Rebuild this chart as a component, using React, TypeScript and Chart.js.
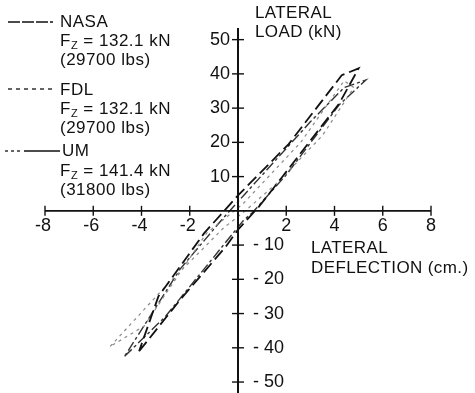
import React, { useEffect, useRef } from "react";
import { Chart, registerables } from "chart.js";

Chart.register(...registerables);

// ---- data (lateral deflection cm, lateral load kN) ----
const nasaX = [-4.1, -2.4, -0.5, 0, 0.9, 1.8, 4.2, 5.0, 4.3, 2.1, 0, -1.4, -3.3, -4.1];
const nasaY = [-41, -26, -10.4, -5.5, 1.5, 9.6, 31.4, 41.6, 39.6, 19.5, 4.5, -6.5, -25, -41];
const fdlX = [-5.3, -3.0, -0.6, 0.3, 1.6, 3.5, 4.8, 4.4, 2.6, 0.2, -1.3, -3.9, -5.3];
const fdlY = [-39.6, -22, -5, 0, 8, 22, 36, 38, 20, 2, -6.5, -33.7, -39.6];
const umX = [-4.7, -3.0, -1.2, 0.2, 0.6, 2.0, 4.2, 5.3, 4.4, 3.0, 0.3, -0.6, -2.4, -4.7];
const umY = [-42.5, -30.8, -15.2, -3, -0.5, 10.5, 31, 38.2, 36, 26, 5, -2, -17, -42.5];

const xTicks = [-8, -6, -4, -2, 2, 4, 6, 8];
const yTicks = [50, 40, 30, 20, 10, -10, -20, -30, -40, -50];

const FONT = "'Liberation Sans', Arial, sans-serif";

const pts = (xs: number[], ys: number[]) => xs.map((x, i) => ({ x, y: ys[i] }));

const crossAxes = {
  id: "crossAxes",
  afterDraw(chart: any) {
    const { ctx, scales } = chart;
    const xs = scales.x;
    const ys = scales.y;
    const x0 = xs.getPixelForValue(0);
    const y0 = ys.getPixelForValue(0);
    ctx.save();
    ctx.strokeStyle = "#111";
    ctx.fillStyle = "#111";
    ctx.lineWidth = 1.6;
    ctx.beginPath();
    ctx.moveTo(xs.getPixelForValue(-8), y0);
    ctx.lineTo(xs.getPixelForValue(8), y0);
    ctx.stroke();
    ctx.lineWidth = 2;
    ctx.beginPath();
    ctx.moveTo(x0, ys.top);
    ctx.lineTo(x0, ys.bottom);
    ctx.stroke();
    ctx.lineWidth = 1.4;
    xTicks.forEach((v) => {
      const px = xs.getPixelForValue(v);
      ctx.beginPath();
      ctx.moveTo(px, y0 - 5);
      ctx.lineTo(px, y0 + 5);
      ctx.stroke();
    });
    yTicks.forEach((v) => {
      const py = ys.getPixelForValue(v);
      ctx.beginPath();
      ctx.moveTo(x0 - 6, py);
      ctx.lineTo(x0 + 6, py);
      ctx.stroke();
    });
    ctx.font = `18px ${FONT}`;
    ctx.textBaseline = "middle";
    xTicks.forEach((v) => {
      const px = xs.getPixelForValue(v);
      ctx.textAlign = "center";
      const label = v < 0 ? "-" + Math.abs(v) : String(v);
      ctx.fillText(label, px - (v < 0 ? 2 : 0), y0 + 15);
    });
    yTicks.forEach((v) => {
      const py = ys.getPixelForValue(v);
      if (v > 0) {
        ctx.textAlign = "right";
        ctx.fillText(String(v), x0 - 8, py);
      } else {
        ctx.textAlign = "left";
        ctx.fillText("- " + Math.abs(v), x0 + 15, py);
      }
    });
    ctx.restore();
  },
};

export default function App() {
  const ref = useRef<HTMLCanvasElement | null>(null);

  useEffect(() => {
    if (!ref.current) return;
    const chart = new Chart(ref.current, {
      type: "scatter",
      data: {
        datasets: [
          {
            label: "NASA",
            data: pts(nasaX, nasaY),
            showLine: true,
            borderColor: "#111",
            borderWidth: 1.8,
            borderDash: [12, 5],
            pointRadius: 0,
            tension: 0,
          },
          {
            label: "FDL",
            data: pts(fdlX, fdlY),
            showLine: true,
            borderColor: "#8a8a8a",
            borderWidth: 1.2,
            borderDash: [3, 4],
            pointRadius: 0,
            tension: 0,
          },
          {
            label: "UM",
            data: pts(umX, umY),
            showLine: true,
            borderColor: "#333",
            borderWidth: 1.4,
            borderDash: [10, 3, 3, 3],
            pointRadius: 0,
            tension: 0,
          },
        ],
      },
      options: {
        animation: false,
        responsive: false,
        maintainAspectRatio: false,
        layout: { padding: { left: 45, right: 44, top: 28, bottom: 0 } },
        plugins: { legend: { display: false }, tooltip: { enabled: false } },
        scales: {
          x: { type: "linear", min: -8, max: 8, display: false },
          y: { type: "linear", min: -53.2, max: 53.4, display: false },
        },
      },
      plugins: [crossAxes],
    });
    return () => chart.destroy();
  }, []);

  const text: React.CSSProperties = {
    position: "absolute",
    fontFamily: FONT,
    fontSize: 17,
    letterSpacing: 0.5,
    color: "#111",
    whiteSpace: "nowrap",
    lineHeight: "19px",
  };
  const title: React.CSSProperties = { ...text, letterSpacing: 0.4 };
  const sub: React.CSSProperties = { fontSize: 11, verticalAlign: "-3px" };

  return (
    <div style={{ position: "fixed", left: 0, top: 0, width: 475, height: 393, background: "#fff" }}>
      <canvas ref={ref} width={475} height={393} style={{ position: "absolute", left: 0, top: 0 }} />
      <svg width={70} height={200} style={{ position: "absolute", left: 0, top: 0 }}>
        <line x1={8} y1={22} x2={53} y2={22} stroke="#111" strokeWidth={1.6} strokeDasharray="12 2" />
        <line x1={8} y1={89} x2={52} y2={89} stroke="#333" strokeWidth={1.3} strokeDasharray="4 4" />
        <line x1={5} y1={151} x2={22} y2={151} stroke="#333" strokeWidth={1.3} strokeDasharray="3 3" />
        <line x1={24} y1={151} x2={60} y2={151} stroke="#111" strokeWidth={1.6} />
      </svg>
      <div style={{ ...text, left: 60, top: 12 }}>NASA</div>
      <div style={{ ...text, left: 60, top: 31 }}>F<span style={sub}>Z</span> = 132.1 kN</div>
      <div style={{ ...text, left: 60, top: 50 }}>(29700 lbs)</div>
      <div style={{ ...text, left: 60, top: 80 }}>FDL</div>
      <div style={{ ...text, left: 60, top: 99 }}>F<span style={sub}>Z</span> = 132.1 kN</div>
      <div style={{ ...text, left: 60, top: 118 }}>(29700 lbs)</div>
      <div style={{ ...text, left: 62, top: 141 }}>UM</div>
      <div style={{ ...text, left: 60, top: 161 }}>F<span style={sub}>Z</span> = 141.4 kN</div>
      <div style={{ ...text, left: 60, top: 180 }}>(31800 lbs)</div>
      <div style={{ ...title, left: 255, top: 3 }}>LATERAL</div>
      <div style={{ ...title, left: 255, top: 22 }}>LOAD (kN)</div>
      <div style={{ ...title, left: 311, top: 238 }}>LATERAL</div>
      <div style={{ ...title, left: 311, top: 258 }}>DEFLECTION (cm.)</div>
    </div>
  );
}
